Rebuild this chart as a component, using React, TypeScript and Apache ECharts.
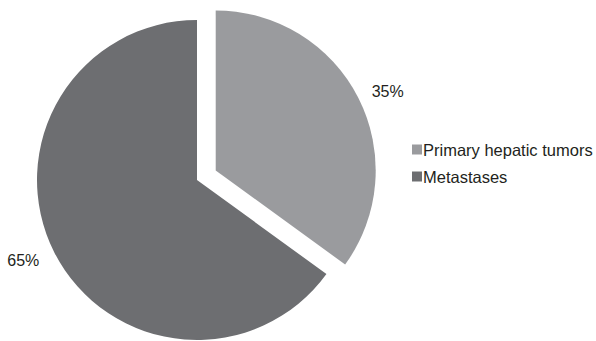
import React, { useEffect, useRef } from "react";
import * as echarts from "echarts";

const categories = ["Primary hepatic tumors", "Metastases"];
const values = [35, 65];
const colors = ["#9a9b9e", "#6d6e71"];
const labelLengths = [15, 17];

export default function App() {
  const ref = useRef<HTMLDivElement>(null);
  useEffect(() => {
    if (!ref.current) return;
    const chart = echarts.init(ref.current, null, { renderer: "svg" });
    const data = categories.map((name, i) => ({
      name,
      value: values[i],
      selected: i === 0,
      itemStyle: { color: colors[i] },
      labelLine: { show: false, length: labelLengths[i], length2: 0 },
    }));
    chart.setOption({
      animation: false,
      backgroundColor: "#ffffff",
      legend: {
        orient: "vertical",
        left: 412,
        top: 141,
        padding: 0,
        itemWidth: 10,
        itemHeight: 10,
        itemGap: 10,
        icon: "rect",
        textStyle: {
          fontFamily: "Liberation Sans, Arial, sans-serif",
          fontSize: 16.5,
          color: "#231f20",
          padding: [0, 0, 0, -4],
        },
        data: categories,
      },
      series: [
        {
          type: "pie",
          center: [197, 180],
          radius: 160,
          startAngle: 90,
          clockwise: true,
          selectedMode: "single",
          selectedOffset: 21,
          emphasis: { disabled: true },
          label: {
            show: true,
            position: "outside",
            formatter: "{c}%",
            fontFamily: "Liberation Sans, Arial, sans-serif",
            fontSize: 16,
            color: "#231f20",
            distanceToLabelLine: 0,
            overflow: "none",
            edgeDistance: 0,
            bleedMargin: 0,
          },
          labelLine: { show: false },
          data,
        },
      ],
    });
    return () => chart.dispose();
  }, []);
  return (
    <div
      ref={ref}
      style={{ position: "fixed", left: 0, top: 0, width: 596, height: 341 }}
    />
  );
}
